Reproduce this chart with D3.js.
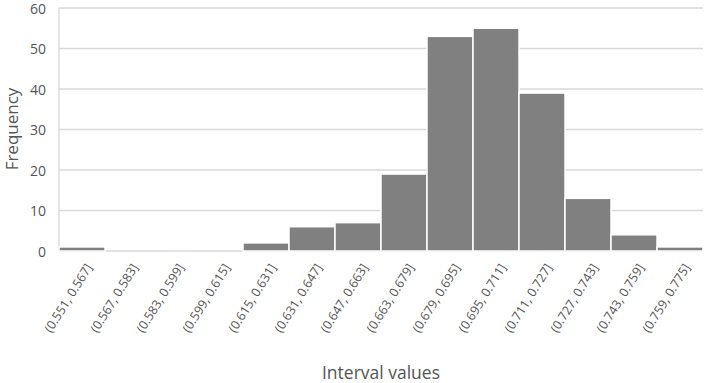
<!DOCTYPE html>
<html>
<head>
<meta charset="utf-8">
<script src="https://cdn.jsdelivr.net/npm/d3@7"></script>
<style>
  body { margin: 0; background: #fff; }
  text { font-family: "Open Sans", "Noto Sans", sans-serif; fill: #555555; }
</style>
</head>
<body>
<div id="chart"></div>
<script>
var width = 705,
  height = 383;

var bins = ["(0.551, 0.567]", "(0.567, 0.583]", "(0.583, 0.599]", "(0.599, 0.615]", "(0.615, 0.631]",
  "(0.631, 0.647]", "(0.647, 0.663]", "(0.663, 0.679]", "(0.679, 0.695]", "(0.695, 0.711]",
  "(0.711, 0.727]", "(0.727, 0.743]", "(0.743, 0.759]", "(0.759, 0.775]"];
var counts = [1, 0, 0, 0, 2, 6, 7, 19, 53, 55, 39, 13, 4, 1];
var yTicks = [0, 10, 20, 30, 40, 50, 60];

var margin = { top: 8, right: 2, bottom: 132, left: 59 };

var svg = d3.select("#chart").append("svg")
  .attr("width", width)
  .attr("height", height);

var x = d3.scaleBand()
  .domain(bins)
  .range([margin.left, width - margin.right])
  .padding(0);

var y = d3.scaleLinear()
  .domain([0, 60])
  .range([height - margin.bottom, margin.top]);

// gridlines
svg.append("g")
  .selectAll("line")
  .data(yTicks)
  .enter().append("line")
  .attr("x1", margin.left)
  .attr("x2", width - margin.right)
  .attr("y1", function (d) { return y(d); })
  .attr("y2", function (d) { return y(d); })
  .attr("stroke", "#d9d9d9")
  .attr("stroke-width", 1.3);

// left axis line
svg.append("line")
  .attr("x1", margin.left).attr("x2", margin.left)
  .attr("y1", y(60)).attr("y2", y(0))
  .attr("stroke", "#d9d9d9")
  .attr("stroke-width", 1.3);

// bars
svg.append("g")
  .selectAll("rect")
  .data(counts)
  .enter().append("rect")
  .attr("x", function (d, i) { return x(bins[i]); })
  .attr("width", x.bandwidth())
  .attr("y", function (d) { return y(d); })
  .attr("height", function (d) { return y(0) - y(d); })
  .attr("fill", "#808080")
  .attr("stroke", "#ffffff")
  .attr("stroke-width", 1.5);

// y tick labels
svg.append("g")
  .selectAll("text")
  .data(yTicks)
  .enter().append("text")
  .attr("x", margin.left - 13)
  .attr("y", function (d) { return y(d) + 1; })
  .attr("dy", "0.35em")
  .attr("text-anchor", "end")
  .style("font-size", "14px")
  .text(function (d) { return d; });

// x tick labels
svg.append("g")
  .selectAll("text")
  .data(bins)
  .enter().append("text")
  .attr("transform", function (d) {
    return "translate(" + (x(d) + x.bandwidth() / 2 + 7) + "," + (y(0) + 14) + ")rotate(-58)";
  })
  .attr("text-anchor", "end")
  .attr("dy", "0.35em")
  .style("font-size", "12.5px")
  .text(function (d) { return d; });

// axis titles
svg.append("text")
  .attr("x", 381)
  .attr("y", 379)
  .attr("text-anchor", "middle")
  .style("font-size", "17.5px")
  .text("Interval values");

svg.append("text")
  .attr("transform", "translate(18," + 129 + ")rotate(-90)")
  .attr("text-anchor", "middle")
  .style("font-size", "17px")
  .text("Frequency");
</script>
</body>
</html>
